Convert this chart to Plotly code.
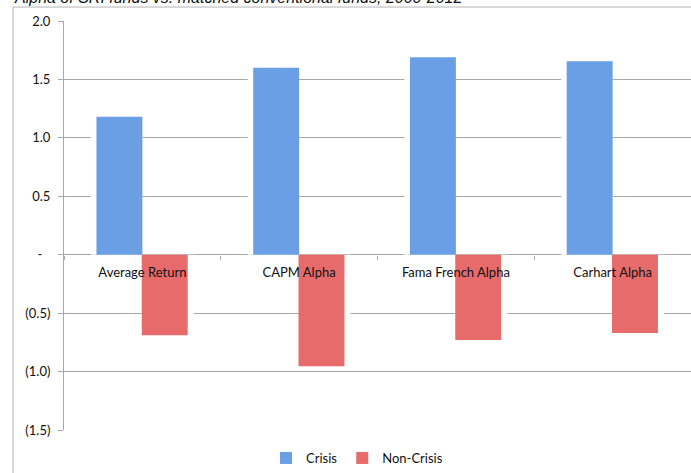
import plotly.graph_objects as go

categories = ["Average Return", "CAPM Alpha", "Fama French Alpha", "Carhart Alpha"]
crisis = [1.18, 1.60, 1.69, 1.655]
non_crisis = [-0.69, -0.955, -0.73, -0.67]
y_tickvals = [2.0, 1.5, 1.0, 0.5, 0.0, -0.5, -1.0, -1.5]
y_ticktext = ["2.0", "1.5", "1.0", "0.5", "-\u2002\u2009", "(0.5)", "(1.0)", "(1.5)"]
title_text = "Alpha of SRI funds vs. matched conventional funds, 2000-2012"

W, H = 691, 473
ml, mr, mt, mb = 64, 0, 21, 42
pw = W - ml - mr
ph = H - mt - mb

bw = 0.293
pad = 0.035
grid = "#a8a8a8"
blue = "#6a9fe6"
red = "#e86b6b"

fig = go.Figure()
# white backing (gap around bars)
fig.add_trace(go.Bar(x=categories, y=crisis, offset=-bw - pad, width=bw + pad,
                     marker=dict(color="white", line=dict(width=0)),
                     showlegend=False, hoverinfo="skip"))
fig.add_trace(go.Bar(x=categories, y=non_crisis, offset=0, width=bw + pad,
                     marker=dict(color="white", line=dict(width=0)),
                     showlegend=False, hoverinfo="skip"))
fig.add_trace(go.Bar(x=categories, y=crisis, name="Crisis", offset=-bw, width=bw,
                     marker=dict(color=blue, line=dict(width=0))))
fig.add_trace(go.Bar(x=categories, y=non_crisis, name="Non-Crisis", offset=-0.004, width=bw,
                     marker=dict(color=red, line=dict(width=0))))

zero_pos = 1.5 / 3.5

fig.update_layout(
    width=W, height=H,
    margin=dict(l=ml, r=mr, t=mt, b=mb, pad=0),
    paper_bgcolor="white", plot_bgcolor="white",
    barmode="overlay",
    font=dict(family="Lato", size=13, color="#111111"),
    showlegend=True,
    legend=dict(orientation="h", x=(357 - ml) / pw, xanchor="center",
                y=(ph + mt - 459) / ph, yanchor="middle",
                font=dict(family="Lato", size=13, color="#111111"),
                itemwidth=30, traceorder="normal"),
    xaxis=dict(anchor="free", position=zero_pos, showline=False, showgrid=False,
               ticks="outside", ticklen=4, tickcolor=grid, tickson="boundaries",
               ticklabelstandoff=8,
               tickfont=dict(family="Lato", size=13, color="#111111"),
               range=[-0.5, 3.5], fixedrange=True),
    yaxis=dict(range=[-1.5, 2.0], tickvals=y_tickvals, ticktext=y_ticktext,
               showgrid=True, gridcolor=grid, gridwidth=1, zeroline=False,
               showline=True, linecolor=grid, linewidth=1,
               ticks="outside", ticklen=5, tickcolor=grid, ticklabelstandoff=5,
               tickfont=dict(family="Lato", size=13, color="#111111")),
    shapes=[dict(type="rect", xref="paper", yref="paper",
                 x0=(13 - ml) / pw, x1=1.05, y0=-0.3, y1=(ph + mt - 7) / ph,
                 line=dict(color="#b4b4b4", width=1), fillcolor="rgba(0,0,0,0)", layer="below")],
    annotations=[dict(text="<i>" + title_text + "</i>", xref="paper", yref="paper",
                      x=(12 - ml) / pw, xanchor="left",
                      y=(ph + mt - 8) / ph, yanchor="bottom", showarrow=False,
                      font=dict(family="Liberation Sans", size=16, color="#111111"))],
)

fig.write_html("out.html")
